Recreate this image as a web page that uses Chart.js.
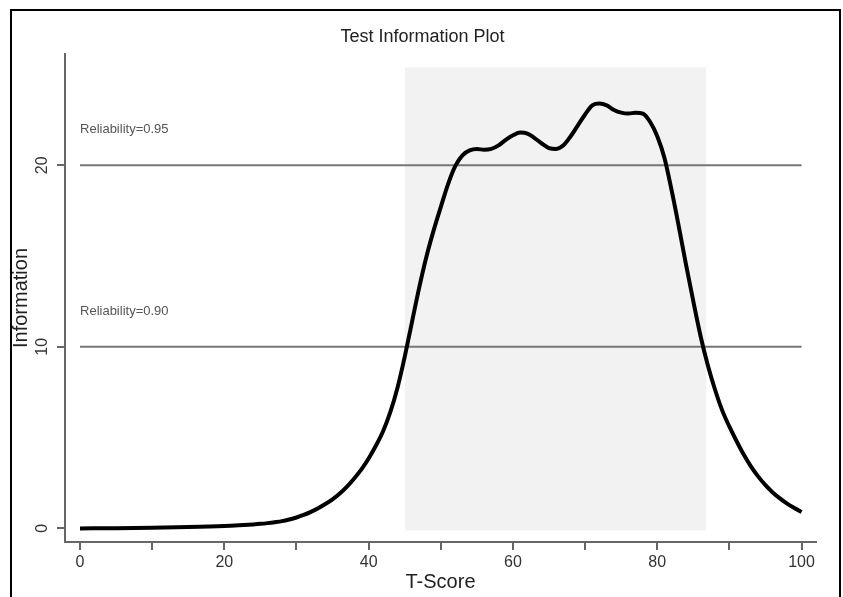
<!DOCTYPE html>
<html>
<head>
<meta charset="utf-8">
<title>Test Information Plot</title>
<script src="https://cdn.jsdelivr.net/npm/chart.js@4.4.1/dist/chart.umd.min.js"></script>
<style>
  html, body { margin: 0; padding: 0; background: #fff; }
  #chart { position: absolute; left: 0; top: 0; }
  #frame { position: absolute; left: 10px; top: 9px; width: 827px; height: 600px;
           border: 2px solid #000; pointer-events: none; }
</style>
</head>
<body>
<canvas id="chart" width="843" height="597"></canvas>
<div id="frame"></div>
<script>
// T-score grid and information values
const tScores = [0, 5, 10, 15, 20, 22, 24, 25, 26, 27, 28, 29,
  30, 31, 32, 33, 34, 35, 36, 37, 38, 39, 40, 41, 42, 43, 44, 45, 46, 47, 48, 49,
  50, 51, 52, 53, 54, 55, 56, 57, 58, 59, 60, 61, 62, 63, 64, 65, 66, 67, 68, 69,
  70, 71, 72, 73, 74, 75, 76, 77, 78, 79, 80, 81, 82, 83, 84, 85, 86, 87, 88, 89,
  90, 91, 92, 93, 94, 95, 96, 97, 98, 99, 100];
const information = [0.0, 0.01, 0.03, 0.07, 0.13, 0.17, 0.22, 0.25, 0.29, 0.34, 0.4, 0.49,
  0.6, 0.74, 0.91, 1.11, 1.34, 1.6, 1.92, 2.3, 2.75, 3.25, 3.85, 4.55, 5.35, 6.4, 7.75, 9.45, 11.35, 13.25, 14.95, 16.4,
  17.7, 18.95, 19.95, 20.55, 20.82, 20.9, 20.85, 20.9, 21.1, 21.4, 21.65, 21.8, 21.75, 21.5, 21.2, 20.95, 20.9, 21.1, 21.6, 22.2,
  22.8, 23.3, 23.4, 23.3, 23.05, 22.9, 22.85, 22.9, 22.85, 22.4, 21.6, 20.4, 18.6, 16.6, 14.5, 12.5, 10.6, 9.0, 7.65, 6.5,
  5.6, 4.8, 4.05, 3.4, 2.85, 2.38, 1.98, 1.65, 1.36, 1.12, 0.9];

// reference lines
const relLevels = [20, 10];
const relLabels = ['Reliability=0.95', 'Reliability=0.90'];
const relSpan = [0, 100];

// shaded band
const bandX = [45, 86.8];
const bandY = [-0.1, 25.4];

// ticks
const xTicks = [0, 10, 20, 30, 40, 50, 60, 70, 80, 90, 100];
const xTickLabels = ['0', '', '20', '', '40', '', '60', '', '80', '', '100'];
const yTicks = [0, 10, 20];
const yTickLabels = ['0', '10', '20'];

const FONT = "'Liberation Sans', Arial, Helvetica, sans-serif";

const curveData = tScores.map((t, i) => ({ x: t, y: information[i] }));

const relDatasets = relLevels.map(lv => ({
  data: relSpan.map(x => ({ x: x, y: lv })),
  borderColor: '#767676',
  borderWidth: 2,
  pointRadius: 0,
  fill: false,
  order: 1
}));

const bandDataset = {
  data: bandX.map(x => ({ x: x, y: bandY[1] })),
  borderWidth: 0,
  borderColor: 'rgba(0,0,0,0)',
  backgroundColor: '#f2f2f2',
  pointRadius: 0,
  fill: { value: bandY[0] },
  order: 2
};

// title, rotated y tick labels, reliability captions
const extraText = {
  id: 'extraText',
  afterDraw(chart) {
    const ctx = chart.ctx;
    const xs = chart.scales.x, ys = chart.scales.y;
    ctx.save();
    ctx.textAlign = 'center';
    ctx.textBaseline = 'middle';

    ctx.fillStyle = '#222';
    ctx.font = '18px ' + FONT;
    ctx.fillText('Test Information Plot', chart.width / 2 + 1, 37);

    ctx.fillStyle = '#333';
    ctx.font = '16px ' + FONT;
    yTicks.forEach((v, i) => {
      ctx.save();
      ctx.translate(42.5, ys.getPixelForValue(v));
      ctx.rotate(-Math.PI / 2);
      ctx.fillText(yTickLabels[i], 0, 0);
      ctx.restore();
    });

    ctx.fillStyle = '#555';
    ctx.font = '13px ' + FONT;
    ctx.textAlign = 'left';
    relLevels.forEach((lv, i) => {
      ctx.fillText(relLabels[i], xs.getPixelForValue(relSpan[0]), ys.getPixelForValue(lv + 1.97));
    });
    ctx.restore();
  }
};

new Chart(document.getElementById('chart'), {
  type: 'line',
  data: {
    datasets: [
      {
        data: curveData,
        borderColor: '#000',
        borderWidth: 4,
        pointRadius: 0,
        fill: false,
        cubicInterpolationMode: 'monotone',
        order: 0
      },
      ...relDatasets,
      bandDataset
    ]
  },
  options: {
    responsive: false,
    animation: false,
    layout: { padding: { left: 9, right: 27, top: 54, bottom: 0 } },
    plugins: {
      legend: { display: false },
      tooltip: { enabled: false },
      title: { display: false }
    },
    scales: {
      x: {
        type: 'linear',
        min: -2.08,
        max: 102,
        afterFit: s => { s.height = 55; },
        afterBuildTicks: s => { s.ticks = xTicks.map(v => ({ value: v })); },
        grid: { drawOnChartArea: false, drawTicks: true, tickLength: 8, color: '#666', lineWidth: 2 },
        border: { color: '#666', width: 2 },
        ticks: {
          color: '#333',
          padding: 3,
          maxRotation: 0,
          autoSkip: false,
          font: { family: FONT, size: 16 },
          callback: (v) => { const i = xTicks.indexOf(v); return i >= 0 ? xTickLabels[i] : ''; }
        },
        title: {
          display: true,
          text: 'T-Score',
          color: '#222',
          font: { family: FONT, size: 20 },
          padding: { top: 0, bottom: 3 }
        }
      },
      y: {
        type: 'linear',
        min: -0.75,
        max: 26.13,
        afterFit: s => { s.width = 56; },
        afterBuildTicks: s => { s.ticks = yTicks.map(v => ({ value: v })); },
        grid: { drawOnChartArea: false, drawTicks: true, tickLength: 8, color: '#666', lineWidth: 2 },
        border: { color: '#666', width: 2 },
        ticks: { display: false },
        title: {
          display: true,
          text: 'Information',
          color: '#222',
          font: { family: FONT, size: 20 },
          padding: 0
        }
      }
    }
  },
  plugins: [extraText]
});
</script>
</body>
</html>
